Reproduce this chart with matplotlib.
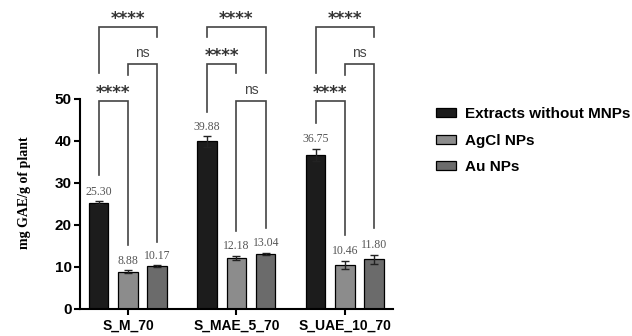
import numpy as np
import matplotlib
matplotlib.use('Agg')
import matplotlib.pyplot as plt
from matplotlib.patches import Patch

groups = ['S_M_70', 'S_MAE_5_70', 'S_UAE_10_70']
series = ['Extracts without MNPs', 'AgCl NPs', 'Au NPs']
extracts = [25.30, 39.88, 36.75]
extracts_err = [0.4, 1.2, 1.4]
agcl = [8.88, 12.18, 10.46]
agcl_err = [0.3, 0.5, 1.0]
au = [10.17, 13.04, 11.80]
au_err = [0.2, 0.3, 1.1]

# significance brackets: (group, bar a, bar b, label)
pairs = [(0, 0, 1, '****'), (0, 1, 2, 'ns'), (0, 0, 2, '****'),
         (1, 0, 1, '****'), (1, 1, 2, 'ns'), (1, 0, 2, '****'),
         (2, 0, 1, '****'), (2, 1, 2, 'ns'), (2, 0, 2, '****')]
# bracket geometry (top, left leg end, right leg end)
bracket_y = [(49.5, 31.9, 15.2), (58.3, 55.7, 16.0), (67.1, 56.2, 64.8),
             (58.3, 46.9, 56.2), (49.5, 18.6, 19.3), (67.1, 64.8, 56.2),
             (49.5, 44.3, 17.6), (58.3, 55.7, 19.3), (67.1, 56.2, 64.8)]

colors = ['#1c1c1c', '#8c8c8c', '#6b6b6b']
sans = 'Liberation Sans'
serif = 'Liberation Serif'

fig = plt.figure(figsize=(6.32, 3.36), dpi=100)
ax = fig.add_axes([0.1266, 0.0804, 0.495, 0.9])

x = np.arange(len(groups))
off = [-0.27, 0.0, 0.27]
w = 0.18
vals = [extracts, agcl, au]
errs = [extracts_err, agcl_err, au_err]
for i in range(3):
    ax.bar(x + off[i], vals[i], w, color=colors[i], edgecolor='black', linewidth=0.9,
           yerr=errs[i], error_kw=dict(ecolor='#222222', elinewidth=1.0, capsize=3, capthick=1.0))
    for j in range(len(groups)):
        ax.annotate('%.2f' % vals[i][j], (x[j] + off[i], vals[i][j] + errs[i][j]),
                    xytext=(0, 2.5), textcoords='offset points', ha='center', va='bottom',
                    fontsize=8.5, family=serif, color='#555555')

for (g, a, b, lab), (top, la, lb) in zip(pairs, bracket_y):
    xa = g + off[a]
    xb = g + off[b]
    ax.plot([xa, xa, xb, xb], [la, top, top, lb], color='#444444', lw=1.2,
            solid_joinstyle='miter', clip_on=False)
    if lab == 'ns':
        ax.text((xa + xb) / 2, top + 0.9, lab, ha='center', va='bottom', fontsize=10,
                family=sans, color='#444444')
    else:
        ax.text((xa + xb) / 2, top - 0.1, lab, ha='center', va='bottom', fontsize=12,
                family='DejaVu Sans', fontweight='bold', color='#333333')

ax.set_xlim(-0.442, 2.442)
ax.set_ylim(0, 72)
ax.set_yticks([0, 10, 20, 30, 40, 50])
ax.set_xticks(x)
ax.set_xticklabels(groups, fontsize=10, fontweight='bold', family=sans)
for t in ax.get_yticklabels():
    t.set_fontsize(11)
    t.set_fontweight('bold')
    t.set_family(sans)
ax.spines['top'].set_visible(False)
ax.spines['right'].set_visible(False)
ax.spines['left'].set_bounds(0, 50)
ax.spines['left'].set_linewidth(1.5)
ax.spines['bottom'].set_linewidth(1.5)
ax.tick_params(axis='both', width=1.5, length=4, pad=2)
ax.tick_params(axis='x', pad=3)
fig.text(25 / 632, 1 - 193 / 336, 'mg GAE/g of plant', rotation=90, ha='center', va='center',
         fontsize=10, fontweight='bold', family=serif)

handles = [Patch(facecolor=colors[i], edgecolor='black', linewidth=0.9) for i in range(3)]
fig.legend(handles, series, loc='upper left', bbox_to_anchor=(0.668, 0.722), frameon=False,
           prop={'family': sans, 'weight': 'bold', 'size': 11}, handlelength=1.3,
           handleheight=0.5, handletextpad=0.6, labelspacing=0.82)

fig.savefig('out.png', dpi=100)
